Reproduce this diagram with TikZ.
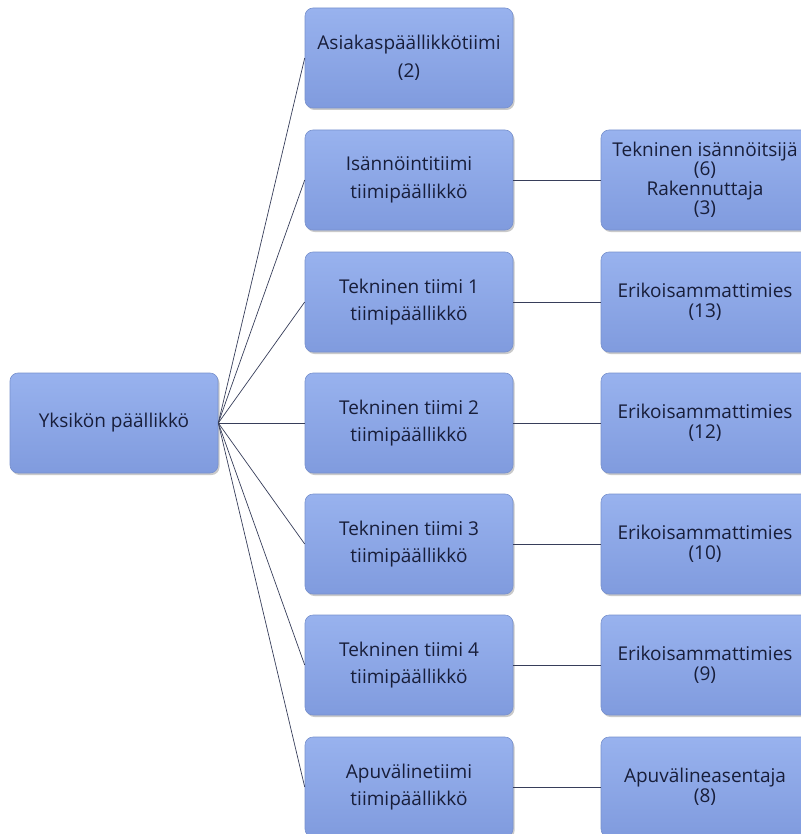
\documentclass[tikz,border=0pt]{standalone}
\usepackage{fontspec}
\setmainfont{Open Sans}
\usetikzlibrary{shadows}
\definecolor{boxtop}{RGB}{152,178,238}
\definecolor{boxbot}{RGB}{128,155,222}
\definecolor{boxline}{RGB}{120,145,205}
\definecolor{txt}{RGB}{24,30,58}
\definecolor{wire}{RGB}{55,62,90}
\begin{document}
\begin{tikzpicture}[x=1pt,y=-1pt,
  orgbox/.style={rectangle, rounded corners=8pt, minimum width=208pt, minimum height=100pt,
    top color=boxtop, bottom color=boxbot, draw=boxline, line width=0.6pt,
    drop shadow={shadow xshift=1.5pt, shadow yshift=-2pt, opacity=0.35, fill=black!60},
    text=txt, align=center, font=\fontsize{19}{27.5}\selectfont, inner sep=2pt},
  leafbox/.style={orgbox, font=\fontsize{19}{19.5}\selectfont},
  wireline/.style={draw=wire, line width=0.7pt}]
\useasboundingbox (0,0) rectangle (800,834);
% head of the unit
\node[orgbox] (root) at (114,423) {Yksikön päällikkö};
% teams
\node[orgbox] (t1) at (409,58) {Asiakaspäällikkötiimi\\(2)};
\node[orgbox] (t2) at (409,180) {Isännöintitiimi\\tiimipäällikkö};
\node[orgbox] (t3) at (409,302) {Tekninen tiimi 1\\tiimipäällikkö};
\node[orgbox] (t4) at (409,423) {Tekninen tiimi 2\\tiimipäällikkö};
\node[orgbox] (t5) at (409,544) {Tekninen tiimi 3\\tiimipäällikkö};
\node[orgbox] (t6) at (409,665) {Tekninen tiimi 4\\tiimipäällikkö};
\node[orgbox] (t7) at (409,787) {Apuvälinetiimi\\tiimipäällikkö};
% staff
\node[leafbox] (s2) at (705,180) {Tekninen isännöitsijä\\(6)\\Rakennuttaja\\(3)};
\node[leafbox] (s3) at (705,302) {Erikoisammattimies\\(13)};
\node[leafbox] (s4) at (705,423) {Erikoisammattimies\\(12)};
\node[leafbox] (s5) at (705,544) {Erikoisammattimies\\(10)};
\node[leafbox] (s6) at (705,665) {Erikoisammattimies\\(9)};
\node[leafbox] (s7) at (705,787) {Apuvälineasentaja\\(8)};
% connectors
\foreach \t in {t1,t2,t3,t4,t5,t6,t7}
  \draw[wireline] (root.east) -- (\t.west);
\foreach \a/\b in {t2/s2,t3/s3,t4/s4,t5/s5,t6/s6,t7/s7}
  \draw[wireline] (\a.east) -- (\b.west);
\end{tikzpicture}
\end{document}
